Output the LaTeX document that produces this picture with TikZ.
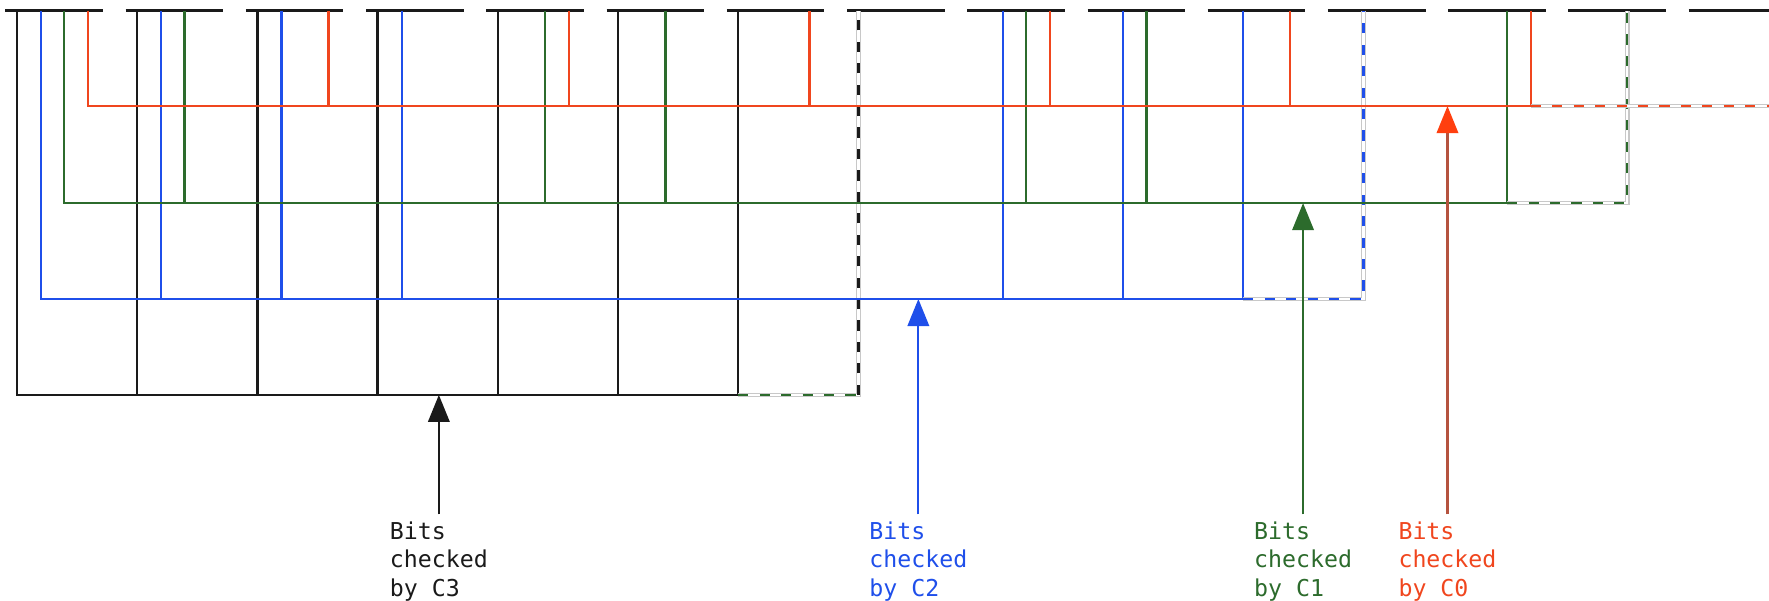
\documentclass[tikz,border=0pt]{standalone}
\usepackage{fontspec}
\newfontfamily\codefont{DejaVu Sans Mono}
\usetikzlibrary{arrows.meta}

\definecolor{cthree}{HTML}{1A1A1A}
\definecolor{ctwo}{HTML}{1F4FEA}
\definecolor{cone}{HTML}{2C6B2C}
\definecolor{czero}{HTML}{F0461E}
\definecolor{czerohead}{HTML}{FF3F0F}
\definecolor{czeroshaft}{HTML}{B5533F}
\definecolor{halo}{HTML}{C8C8C8}

\begin{document}
\begin{tikzpicture}[x=0.5pt,y=-0.5pt,
  slotbar/.style={draw=cthree, line width=1.4pt},
  wire/.style={line width=1pt, line join=miter},
  haloline/.style={draw=halo, line width=2pt, line join=miter,
    postaction={draw=white, line width=1pt}},
  dashwire/.style={line width=1pt, dash pattern=on 4.5pt off 5pt},
  pointer/.style={line width=1pt, -{Triangle[width=9.5pt,length=12pt]}},
  lbl/.style={anchor=north, align=left, inner sep=3pt,
    font=\codefont\fontsize{10.3pt}{12.6pt}\selectfont}]

\path[use as bounding box] (0,0) rectangle (1568,532);
\clip (0,0) rectangle (1568,532);

% bus levels of the four check bits
\coordinate (bus3) at (0,350);
\coordinate (bus2) at (0,265);
\coordinate (bus1) at (0,180);
\coordinate (bus0) at (0,94);

% the fifteen bit slots
\foreach \i in {0,...,14}{
  \coordinate (s\i) at ({15+106.57*\i},9.5);
}

% taps of each check bit into the slots
\foreach \i in {0,...,7}{\coordinate (t3-\i) at (s\i);}
\foreach \i in {0,1,2,3,8,9,10,11}{\coordinate (t2-\i) at ([xshift=10.65pt]s\i);}
\foreach \i in {0,1,4,5,8,9,12,13}{\coordinate (t1-\i) at ([xshift=21pt]s\i);}
\foreach \i in {0,2,4,6,8,10,12,14}{\coordinate (t0-\i) at ([xshift=31.5pt]s\i);}

% slot bars
\foreach \i in {0,...,14}{
  \draw[slotbar] ([xshift=-5.1pt]s\i) -- ([xshift=38.15pt]s\i);
}

% C3
\draw[wire, cthree] (t3-0) |- (t3-6 |- bus3);
\foreach \i in {1,...,6}{\draw[wire, cthree] (t3-\i) -- (t3-\i |- bus3);}
\draw[haloline] (t3-6 |- bus3) -| (t3-7);
\draw[dashwire, cone] (t3-6 |- bus3) -- (t3-7 |- bus3);
\draw[dashwire, cthree] (t3-7 |- bus3) -- (t3-7);

% C2
\draw[wire, ctwo] (t2-0) |- (t2-10 |- bus2);
\foreach \i in {1,2,3,8,9,10}{\draw[wire, ctwo] (t2-\i) -- (t2-\i |- bus2);}
\draw[haloline] (t2-10 |- bus2) -| (t2-11);
\draw[dashwire, ctwo] (t2-10 |- bus2) -| (t2-11);

% C1
\draw[wire, cone] (t1-0) |- (t1-12 |- bus1);
\foreach \i in {1,4,5,8,9,12}{\draw[wire, cone] (t1-\i) -- (t1-\i |- bus1);}
\draw[haloline] (t1-12 |- bus1) -| (t1-13);
\draw[dashwire, cone] (t1-12 |- bus1) -| (t1-13);

% C0
\draw[wire, czero] (t0-0) |- (t0-12 |- bus0);
\foreach \i in {2,4,6,8,10,12}{\draw[wire, czero] (t0-\i) -- (t0-\i |- bus0);}
\draw[haloline] (t0-12 |- bus0) -| (t0-14);
\draw[dashwire, czero] (t0-12 |- bus0) -| (t0-14);

% labels and their pointers
\node[lbl, text=cthree] (l3) at (389,456) {Bits\\checked\\by C3};
\node[lbl, text=ctwo]   (l2) at (814,456) {Bits\\checked\\by C2};
\node[lbl, text=cone]   (l1) at (1155,456) {Bits\\checked\\by C1};
\node[lbl, text=czero]  (l0) at (1283,456) {Bits\\checked\\by C0};

\draw[pointer, cthree] (l3.north) -- (l3.north |- bus3);
\draw[pointer, ctwo]   (l2.north) -- (l2.north |- bus2);
\draw[pointer, cone]   (l1.north) -- (l1.north |- bus1);
\draw[pointer, czeroshaft, -{Triangle[width=9.5pt,length=12pt,color=czerohead,fill=czerohead]}]
  (l0.north) -- (l0.north |- bus0);

\end{tikzpicture}
\end{document}
